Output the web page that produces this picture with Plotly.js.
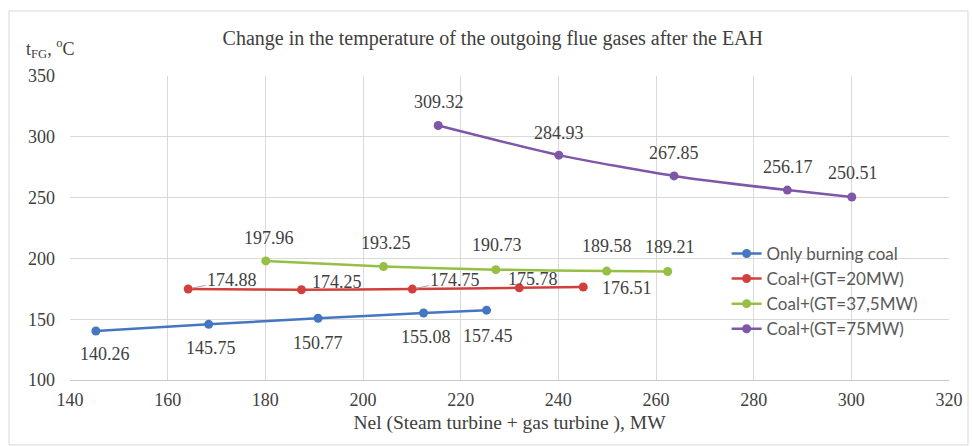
<!DOCTYPE html>
<html>
<head>
<meta charset="utf-8">
<script src="https://cdn.plot.ly/plotly-3.0.1.min.js"></script>
<style>html,body{margin:0;padding:0;background:#fff;}#chart{width:972px;height:446px;}</style>
</head>
<body>
<div id="chart"></div>
<script>
// ---- data ----
const seriesNames = ["Only burning coal", "Coal+(GT=20MW)", "Coal+(GT=37,5MW)", "Coal+(GT=75MW)"];
const xCoal   = [145.3, 168.4, 190.8, 212.4, 225.3];
const yCoal   = [140.26, 145.75, 150.77, 155.08, 157.45];
const xGT20   = [164.2, 187.4, 210.1, 232.0, 245.1];
const yGT20   = [174.88, 174.25, 174.75, 175.78, 176.51];
const xGT375  = [180.1, 204.2, 227.2, 249.9, 262.4];
const yGT375  = [197.96, 193.25, 190.73, 189.58, 189.21];
const xGT75   = [215.4, 240.1, 263.7, 286.9, 300.1];
const yGT75   = [309.32, 284.93, 267.85, 256.17, 250.51];
const xTicks  = [140, 160, 180, 200, 220, 240, 260, 280, 300, 320];
const yTicks  = [100, 150, 200, 250, 300, 350];

// ---- styles ----
const colors = ["#4576C2", "#D2403D", "#96BF45", "#7E57A8"];
// label offsets (px) per series point: [xshift, yshift]
const labelOffsets = [
  [[9,-23],[2,-24],[0,-25],[2,-24],[1,-26]],
  [[44,9],[36,8],[43,9],[14,9],[44,-1]],
  [[3,23],[2,24],[1,25],[0,25],[2,25]],
  [[1,23],[0,22],[0,23],[1,23],[1,24]]
];
const leaderLines = [[false,false,false,false,false],[true,false,true,false,false],[false,false,false,false,false],[false,false,false,false,false]];

const xs = [xCoal, xGT20, xGT375, xGT75];
const ys = [yCoal, yGT20, yGT375, yGT75];
const serif = "Liberation Serif";
const txtColor = "#404040";

const traces = xs.map((x, i) => ({
  x: x, y: ys[i], name: seriesNames[i], type: "scatter", mode: "lines+markers",
  line: {color: colors[i], width: 2.5, shape: "spline", smoothing: 0.6},
  marker: {color: colors[i], size: 9}
}));

const annotations = [];
xs.forEach((x, i) => {
  x.forEach((xv, j) => {
    const off = labelOffsets[i][j];
    const txt = ys[i][j].toFixed(2);
    if (leaderLines[i][j]) {
      annotations.push({x: xv, y: ys[i][j], xref: "x", yref: "y", text: txt,
        showarrow: true, arrowhead: 0, arrowwidth: 1, arrowcolor: "#a6a6a6",
        ax: off[0], ay: -off[1], standoff: 4,
        font: {family: serif, size: 18, color: txtColor}});
    } else {
      annotations.push({x: xv, y: ys[i][j], xref: "x", yref: "y", text: txt,
        showarrow: false, xshift: off[0], yshift: off[1],
        font: {family: serif, size: 18, color: txtColor}});
    }
  });
});
annotations.push({xref: "paper", yref: "paper", x: -0.0225, y: 1.09, xanchor: "center", yanchor: "middle",
  text: "t<sub>FG</sub>, <sup>o</sup>C", showarrow: false,
  font: {family: serif, size: 18, color: txtColor}});

const layout = {
  width: 972, height: 446,
  margin: {l: 70, r: 23, t: 76, b: 66},
  paper_bgcolor: "#ffffff", plot_bgcolor: "#ffffff",
  title: {text: "Change in the temperature of the outgoing flue gases after the EAH",
    x: 0.507, xref: "container", xanchor: "center", y: 0.915, yref: "container", yanchor: "middle",
    font: {family: serif, size: 20, color: txtColor}},
  xaxis: {range: [140, 320], tickvals: xTicks, ticktext: xTicks.map(String),
    showgrid: true, gridcolor: "#d9d9d9", gridwidth: 1, zeroline: false,
    showline: true, linecolor: "#c8c8c8", linewidth: 1, ticks: "", ticklabelstandoff: 3,
    tickfont: {family: serif, size: 18, color: txtColor},
    title: {text: "Nel (Steam turbine + gas turbine ), MW", standoff: 6,
      font: {family: serif, size: 19.5, color: txtColor}}},
  yaxis: {range: [100, 350], tickvals: yTicks, ticktext: yTicks.map(String),
    showgrid: true, gridcolor: "#d9d9d9", gridwidth: 1, zeroline: false,
    showline: false, ticks: "", ticklabelstandoff: 14,
    tickfont: {family: serif, size: 18, color: txtColor}},
  legend: {x: 0.747, y: 0.474, xanchor: "left", yanchor: "top", bgcolor: "rgba(255,255,255,0)",
    font: {family: "Lato", size: 17, color: "#595959"}},
  showlegend: true,
  annotations: annotations,
  shapes: [{type: "rect", xref: "paper", yref: "paper", x0: -0.0694, x1: 1.0216, y0: -0.2138, y1: 1.2138,
    line: {color: "#d9d9d9", width: 1}, fillcolor: "rgba(0,0,0,0)", layer: "below"}]
};

Plotly.newPlot("chart", traces, layout, {displayModeBar: false, staticPlot: true});
</script>
</body>
</html>
